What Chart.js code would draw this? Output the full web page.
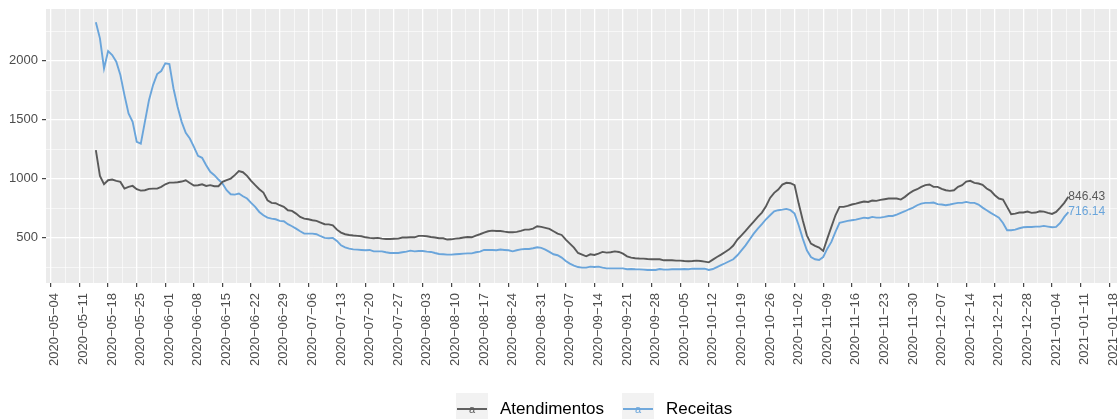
<!DOCTYPE html>
<html>
<head>
<meta charset="utf-8">
<script src="https://cdn.jsdelivr.net/npm/chart.js@4.4.1/dist/chart.umd.min.js"></script>
<style>
  html, body { margin: 0; padding: 0; background: #ffffff; }
  canvas { display: block; }
</style>
</head>
<body>
<canvas id="grafico" width="1120" height="419"></canvas>
<script>
// dias contados a partir de 2020-05-04
const dias = [
  11, 12, 13, 14, 15, 16, 17, 18, 19, 20, 21, 22, 23, 24, 25, 26, 27, 28, 29, 30,
  31, 32, 33, 34, 35, 36, 37, 38, 39, 40, 41, 42, 43, 44, 45, 46, 47, 48, 49, 50,
  51, 52, 53, 54, 55, 56, 57, 58, 59, 60, 61, 62, 63, 64, 65, 66, 67, 68, 69, 70,
  71, 72, 73, 74, 75, 76, 77, 78, 79, 80, 81, 82, 83, 84, 85, 86, 87, 88, 89, 90,
  91, 92, 93, 94, 95, 96, 97, 98, 99, 100, 101, 102, 103, 104, 105, 106, 107, 108, 109, 110,
  111, 112, 113, 114, 115, 116, 117, 118, 119, 120, 121, 122, 123, 124, 125, 126, 127, 128, 129, 130,
  131, 132, 133, 134, 135, 136, 137, 138, 139, 140, 141, 142, 143, 144, 145, 146, 147, 148, 149, 150,
  151, 152, 153, 154, 155, 156, 157, 158, 159, 160, 161, 162, 163, 164, 165, 166, 167, 168, 169, 170,
  171, 172, 173, 174, 175, 176, 177, 178, 179, 180, 181, 182, 183, 184, 185, 186, 187, 188, 189, 190,
  191, 192, 193, 194, 195, 196, 197, 198, 199, 200, 201, 202, 203, 204, 205, 206, 207, 208, 209, 210,
  211, 212, 213, 214, 215, 216, 217, 218, 219, 220, 221, 222, 223, 224, 225, 226, 227, 228, 229, 230,
  231, 232, 233, 234, 235, 236, 237, 238, 239, 240, 241, 242, 243, 244, 245, 246, 247, 248, 249
];

const atendimentos = [
  1241, 1023, 952, 986, 992, 981, 972, 915, 930, 938, 910, 898, 901, 913, 915, 915, 930, 952, 966, 966,
  969, 975, 986, 963, 941, 944, 952, 938, 944, 935, 935, 972, 986, 1000, 1029, 1063, 1054, 1023, 981, 944,
  910, 881, 816, 794, 791, 774, 760, 731, 726, 703, 675, 661, 655, 647, 641, 627, 613, 612,
  604, 567, 542, 528, 522, 517, 514, 511, 502, 497, 494, 497, 491, 488, 488, 490,
  491, 500, 500, 502, 502, 514, 514, 511, 505, 500, 494, 494, 483, 485, 491, 494, 500, 505, 502, 517,
  528, 542, 553, 559, 556, 556, 550, 545, 545, 548, 556, 567, 567, 576, 596, 590, 582, 573, 553, 533,
  522, 483, 449, 415, 369,
  355, 341, 358, 352, 364, 378, 372, 375, 383, 378, 364, 341, 330, 324, 322,
  321, 318, 316, 316, 316, 307, 307, 307, 304, 304, 301, 299, 301, 304, 301, 296, 290, 313, 335, 355,
  378, 400, 432, 483, 519, 556, 596, 635, 675, 712, 766, 836, 879, 907, 949, 964, 961, 944, 788, 647,
  519, 449, 429, 415,
  386, 491, 590, 689, 760, 760, 768, 780, 788, 797, 805, 802, 814, 811, 819, 825, 831, 831, 831, 822,
  845, 873, 896, 910, 930, 944, 950, 930, 930, 913, 901, 896, 901, 930, 944, 975, 981, 964, 958, 947,
  916, 896, 859, 831, 822, 760, 698, 703, 712, 712, 720, 709, 712, 723, 720, 709, 700, 717, 754, 794,
  846.43
];

const receitas = [
  2325, 2189, 1934, 2081, 2047, 1991, 1878, 1708, 1552, 1481, 1312, 1297, 1481, 1665, 1793, 1886, 1912, 1977, 1971, 1764,
  1609, 1481, 1388, 1340, 1269, 1193, 1176, 1113, 1057, 1029, 992, 958, 901, 867, 864, 873, 850, 831, 794, 760,
  717, 689, 669, 661, 655, 641, 638, 613, 596, 576, 553, 533, 533, 533, 528, 511, 497, 494,
  497, 471, 434, 417, 406, 400, 398, 395, 392, 395, 383, 383, 383, 375, 369, 369,
  369, 375, 381, 389, 383, 386, 386, 381, 378, 369, 361, 358, 355, 355, 358, 361, 364, 366, 366, 375,
  381, 395, 395, 395, 392, 398, 395, 392, 383, 392, 400, 403, 403, 409, 417, 412, 398, 378, 358, 350,
  330, 301, 279, 262, 250,
  245, 245, 253, 250, 253, 245, 239, 239, 239, 239, 239, 231, 233, 231, 230,
  228, 225, 225, 225, 233, 228, 228, 231, 231, 231, 233, 231, 236, 236, 236, 236, 225, 233, 250, 267,
  282, 299, 316, 350, 392, 434, 483, 533, 576, 613, 655, 689, 723, 732, 737, 743, 732, 703, 604, 491,
  392, 335, 316, 310,
  335, 406, 463, 548, 624, 633, 641, 647, 652, 661, 669, 664, 675, 669, 669, 675, 683, 683, 695, 709,
  723, 740, 754, 774, 788, 794, 794, 797, 783, 780, 774, 780, 788, 794, 794, 802, 794, 794, 780, 754,
  732, 709, 689, 669, 624, 562, 562, 567, 579, 587, 589, 590, 593, 593, 599, 593, 587, 590, 624, 675,
  716.14
];

const semanas = [
  "2020-05-04", "2020-05-11", "2020-05-18", "2020-05-25", "2020-06-01", "2020-06-08", "2020-06-15",
  "2020-06-22", "2020-06-29", "2020-07-06", "2020-07-13", "2020-07-20", "2020-07-27", "2020-08-03",
  "2020-08-10", "2020-08-17", "2020-08-24", "2020-08-31", "2020-09-07", "2020-09-14", "2020-09-21",
  "2020-09-28", "2020-10-05", "2020-10-12", "2020-10-19", "2020-10-26", "2020-11-02", "2020-11-09",
  "2020-11-16", "2020-11-23", "2020-11-30", "2020-12-07", "2020-12-14", "2020-12-21", "2020-12-28",
  "2021-01-04", "2021-01-11", "2021-01-18"
];

const yMaiores = [500, 1000, 1500, 2000];
const yMenores = [250, 750, 1250, 1750, 2250];

const nomes = ["Atendimentos", "Receitas"];
const cores = ["#595959", "#6aa5db"];

const FONTE = '"Liberation Sans", Arial, Helvetica, sans-serif';
const X_MIN = -1.2, X_MAX = 260.9;
const Y_MIN = 114.6, Y_MAX = 2438;

const inicio = Date.parse(semanas[0]);
function diaDe(s) {
    return Math.round((Date.parse(s) - inicio) / 864e5);
}

function ticksX() {
    const t = [];
    semanas.forEach(s => {
        const d = diaDe(s);
        t.push({ value: d, texto: s.replace(/-/g, "\u2212") });
        if (d + 3.5 <= X_MAX) t.push({ value: d + 3.5, minor: true });
    });
    return t;
}

function ticksY() {
    const t = yMenores.map(v => ({ value: v, minor: true }))
        .concat(yMaiores.map(v => ({ value: v, texto: String(v) })));
    return t.sort((a, b) => a.value - b.value);
}

const grade = {
    color: "#ffffff",
    lineWidth: c => (c.tick && c.tick.minor) ? 0.6 : 1.3,
    drawTicks: true,
    tickLength: 4,
    tickColor: c => (c.tick && c.tick.minor) ? "rgba(0,0,0,0)" : "#333333",
    tickWidth: 1.1
};

const fundoPainel = {
    id: "fundoPainel",
    beforeDraw(chart) {
        const { ctx, chartArea: a } = chart;
        ctx.save();
        ctx.fillStyle = "#ebebeb";
        ctx.fillRect(a.left, a.top, a.right - a.left, a.bottom - a.top);
        ctx.restore();
    }
};

const rotulosFinais = {
    id: "rotulosFinais",
    afterDatasetsDraw(chart) {
        const { ctx, scales } = chart;
        ctx.save();
        ctx.font = "12px " + FONTE;
        ctx.textAlign = "left";
        ctx.textBaseline = "middle";
        chart.data.datasets.forEach(ds => {
            const p = ds.data[ds.data.length - 1];
            ctx.fillStyle = ds.borderColor;
            ctx.fillText(p.y.toFixed(2), scales.x.getPixelForValue(p.x), scales.y.getPixelForValue(p.y));
        });
        ctx.restore();
    }
};

const legenda = {
    id: "legenda",
    afterDraw(chart) {
        const ctx = chart.ctx;
        const posicoes = [456, 622];
        const yc = 409;
        ctx.save();
        nomes.forEach((nome, i) => {
            const x0 = posicoes[i];
            ctx.fillStyle = "#f2f2f2";
            ctx.fillRect(x0, yc - 16, 32, 32);
            ctx.strokeStyle = cores[i];
            ctx.lineWidth = 1.9;
            ctx.beginPath();
            ctx.moveTo(x0 + 1, yc);
            ctx.lineTo(x0 + 31, yc);
            ctx.stroke();
            ctx.fillStyle = cores[i];
            ctx.font = "11px " + FONTE;
            ctx.textAlign = "center";
            ctx.textBaseline = "middle";
            ctx.fillText("a", x0 + 16, yc + 1);
            ctx.fillStyle = "#000000";
            ctx.font = "17px " + FONTE;
            ctx.textAlign = "left";
            ctx.fillText(nome, x0 + 44, yc);
        });
        ctx.restore();
    }
};

const series = [atendimentos, receitas];

new Chart(document.getElementById("grafico"), {
    type: "line",
    data: {
        datasets: series.map((valores, i) => ({
            label: nomes[i],
            data: dias.map((d, j) => ({ x: d, y: valores[j] })),
            borderColor: cores[i],
            borderWidth: 1.9,
            pointRadius: 0,
            tension: 0,
            fill: false
        }))
    },
    options: {
        responsive: false,
        animation: false,
        layout: { padding: { top: 9, right: 3, bottom: 0, left: 0 } },
        plugins: {
            legend: { display: false },
            tooltip: { enabled: false }
        },
        scales: {
            x: {
                type: "linear",
                min: X_MIN,
                max: X_MAX,
                afterBuildTicks: s => { s.ticks = ticksX(); },
                afterFit: s => {
                    s.height = 136;
                    s.paddingLeft = 0;
                    s.paddingRight = 0;
                },
                grid: grade,
                border: { display: false },
                ticks: {
                    autoSkip: false,
                    minRotation: 90,
                    maxRotation: 90,
                    padding: 6,
                    labelOffset: 4,
                    color: "#4d4d4d",
                    font: { family: FONTE, size: 13 },
                    callback: (v, i, t) => t[i].texto || ""
                }
            },
            y: {
                type: "linear",
                min: Y_MIN,
                max: Y_MAX,
                afterBuildTicks: s => { s.ticks = ticksY(); },
                afterFit: s => {
                    s.width = 46;
                    s.paddingTop = 0;
                    s.paddingBottom = 0;
                },
                grid: grade,
                border: { display: false },
                ticks: {
                    padding: 4,
                    color: "#4d4d4d",
                    font: { family: FONTE, size: 13 },
                    callback: (v, i, t) => t[i].texto || ""
                }
            }
        }
    },
    plugins: [fundoPainel, rotulosFinais, legenda]
});
</script>
</body>
</html>
